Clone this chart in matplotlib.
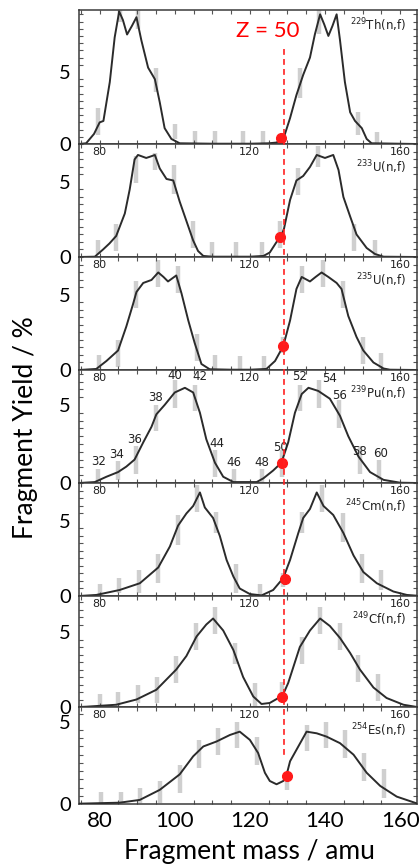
import matplotlib
matplotlib.use('Agg')
import matplotlib.pyplot as plt
import matplotlib.transforms as mtransforms
from matplotlib.lines import Line2D
from matplotlib.ticker import MultipleLocator, FixedLocator, NullFormatter

plt.rcParams['font.family'] = ['Lato', 'DejaVu Sans']

# ── data (mass in amu, yield in %) ────────────────────────────────────
th229_mass  = [74.5, 76.4, 78.5, 80, 81, 82.7, 84, 85.2, 86.2, 87.3, 88.6, 89.8, 91.1, 92.9, 94.7, 96, 97.3, 99.1,
               101.3, 110, 120, 125, 127.1, 129.1, 130.7, 132.4, 134.2, 136, 137.3, 138.7, 139.8, 140.9, 142, 143.1,
               144, 145.3, 146.7, 148, 149.8, 151.1, 152.4, 164.5]
th229_yield = [0, 0.05, 0.7, 1.5, 1.6, 4.3, 7.4, 9.2, 8.6, 7.6, 8.2, 8.8, 7.2, 5.3, 4.5, 2.9, 1.1, 0.35,
               0.05, 0.02, 0.02, 0.05, 0.1, 0.5, 1.8, 3.4, 4.8, 6.0, 7.6, 9.0, 8.3, 7.5, 8.2, 9.0,
               7.2, 4.3, 2.2, 1.6, 1.1, 0.35, 0.05, 0]

u233_mass  = [74.5, 78.7, 80.9, 82.6, 84.4, 86.7, 88, 89.3, 90.2, 91.3, 92.4, 93.6, 94.7, 96, 97.8, 99.6, 101.3,
              103.1, 104.9, 106.2, 107.6, 110, 120, 123.6, 125.3, 127.1, 128.2, 129.1, 130.7, 132.4, 134.2, 136,
              137.8, 140, 142.2, 143.6, 144.9, 146.7, 148.4, 151.1, 153.3, 155.6, 164.5]
u233_yield = [0, 0.02, 0.5, 0.9, 1.4, 2.9, 4.5, 6.5, 6.8, 6.7, 6.6, 6.7, 6.8, 5.9, 5.2, 5.1, 3.7,
              2.4, 1.1, 0.4, 0.07, 0.02, 0.02, 0.07, 0.3, 1.0, 1.3, 1.9, 3.8, 5.1, 5.4, 6.0,
              6.8, 6.6, 6.8, 5.8, 4.0, 2.7, 1.5, 0.6, 0.2, 0.02, 0]

u235_mass  = [74.5, 79.1, 81.8, 84.9, 87.1, 88.9, 89.8, 91.6, 93.8, 95.6, 97, 98.2, 99.3, 100.4, 101.8, 103.6,
              105.3, 107.1, 109.3, 115, 120, 124.4, 126.7, 128.9, 130.7, 132.4, 133.8, 136, 137.5, 139.1, 140.9,
              143.1, 144.4, 146.2, 148.4, 150.2, 152.9, 155.6, 157.3, 164.5]
u235_yield = [0, 0.07, 0.6, 1.3, 2.9, 4.4, 5.2, 5.8, 6.0, 6.5, 6.2, 5.9, 6.1, 6.3, 5.1, 3.3,
              1.8, 0.4, 0.05, 0.02, 0.02, 0.07, 0.6, 1.6, 3.3, 5.4, 6.2, 5.9, 6.2, 6.5, 6.2,
              5.8, 5.4, 3.6, 2.2, 1.3, 0.5, 0.1, 0.02, 0]

pu239_mass  = [74.5, 78.7, 81.8, 84.9, 87.1, 89.3, 91.6, 93.8, 95.1, 97.3, 100, 102.7, 104.9, 106.7, 108.4,
               110.7, 112.9, 115.6, 121.8, 123.6, 126.2, 128.4, 130.2, 132, 133.8, 135.6, 138.2, 141.3, 144,
               146.2, 148.9, 152, 155.6, 160, 164.5]
pu239_yield = [0, 0.06, 0.4, 0.7, 1.05, 1.5, 2.6, 3.6, 4.4, 5.0, 5.8, 6.1, 5.8, 4.5, 2.8,
               1.3, 0.4, 0.06, 0.06, 0.3, 0.8, 1.3, 2.6, 4.5, 5.7, 6.1, 5.9, 5.4, 4.3,
               3.0, 1.7, 0.7, 0.2, 0.02, 0]

cm245_mass  = [74.5, 79.1, 85.3, 90.7, 95.6, 98.7, 100.9, 103.1, 104.9, 106.7, 108, 110.2, 112, 113.8, 115.6,
               117.3, 120, 123.1, 126.2, 128.9, 130.7, 132.9, 134.2, 136, 137.8, 139.6, 142.2, 144.9, 147.6,
               150.2, 153.8, 158.2, 161.8, 164.5]
cm245_yield = [0, 0.07, 0.4, 0.85, 1.9, 3.3, 4.7, 5.5, 6.0, 6.9, 5.9, 5.2, 4.0, 2.4, 1.3,
               0.5, 0.13, 0.04, 0.4, 1.2, 2.4, 4.2, 5.2, 5.8, 6.9, 6.0, 5.4, 4.2, 2.7,
               1.6, 0.85, 0.3, 0.07, 0.02]

cf249_mass  = [74.5, 76.4, 84.4, 89.8, 95.1, 100.4, 103.1, 105.8, 108.4, 110.2, 112.9, 115.6, 118.2, 120.9,
               123.1, 125.3, 127.6, 128.6, 130.2, 133.3, 136, 138.7, 141.3, 144, 146.7, 149.3, 152.9, 156.4,
               160.9, 164.5]
cf249_yield = [0, 0.02, 0.15, 0.5, 1.15, 2.5, 3.4, 4.7, 5.5, 5.9, 5.1, 3.8, 2.0, 0.7,
               0.2, 0.27, 0.6, 0.7, 1.6, 4.0, 5.1, 5.9, 5.4, 4.6, 3.6, 2.5, 1.3, 0.6,
               0.15, 0]

es254_mass  = [74.5, 85.3, 90.7, 96, 101.3, 104.9, 107.6, 111.1, 114.7, 117.3, 120, 122.2, 124, 125.3, 127.1,
               128.9, 129.8, 130.7, 132.9, 135.1, 137.8, 140.4, 144, 147.6, 151.1, 154.7, 159.1, 164.4]
es254_yield = [0.02, 0.08, 0.25, 0.86, 1.8, 2.9, 3.5, 3.8, 4.2, 4.4, 3.9, 3.1, 1.9, 1.4, 1.2,
               1.4, 1.8, 2.6, 3.5, 4.4, 4.3, 4.1, 3.7, 3.0, 1.9, 1.1, 0.45, 0.04]

# grey measurement bars: (mass, low, high)
th229_bars = [(79.6, 0.6, 2.5), (85.3, 8.5, 9.4), (90.2, 8.0, 9.4), (94.9, 3.6, 5.3), (100, 0.35, 1.4),
              (105.3, 0.1, 0.9), (110.7, 0.1, 0.9), (118.2, 0.1, 0.9), (123.4, 0.1, 0.9), (133.3, 3.2, 5.3),
              (138.5, 7.6, 9.3), (148.9, 0.6, 2.2), (153.8, 0.1, 0.8)]
u233_bars = [(79.6, 0.2, 1.1), (84.4, 0.4, 2.2), (89.8, 4.9, 6.7), (94.7, 5.8, 6.9), (99.8, 4.2, 6.1),
             (104.9, 0.6, 2.4), (109.8, 0.07, 1.0), (116.4, 0.07, 1.0), (123.1, 0.07, 1.0), (128, 0.6, 2.4),
             (132.9, 4.1, 5.9), (138.2, 6.0, 7.4), (147.6, 0.4, 2.2), (153.3, 0.07, 1.1)]
u235_bars = [(79.8, 0.07, 1.0), (84.9, 0.2, 2.0), (89.8, 4.1, 5.9), (95.6, 5.5, 7.3), (100.9, 5.1, 6.9),
             (106, 0.6, 2.4), (110.8, 0.07, 1.0), (117.5, 0.07, 0.9), (123.8, 0.07, 0.9), (128.9, 1.1, 2.2),
             (134, 5.1, 6.9), (139.6, 5.5, 7.3), (144.9, 4.1, 5.9), (150, 0.4, 2.2), (154.8, 0.07, 1.1)]
pu239_bars = [(79.6, 0.07, 0.9), (84.9, 0.17, 1.4), (89.6, 0.6, 2.4), (94.9, 3.3, 5.0), (100, 4.8, 6.6),
              (105.3, 4.6, 6.3), (110.8, 0.4, 2.1), (115.8, 0.07, 0.9), (123.2, 0.07, 0.9), (128.5, 0.4, 2.1),
              (133.3, 4.6, 6.3), (138.5, 4.8, 6.6), (143.8, 3.5, 5.3), (149.3, 0.6, 2.4), (154.5, 0.17, 1.5)]
cm245_bars = [(80.2, 0.07, 0.8), (85.2, 0.2, 1.2), (90.5, 0.2, 1.7), (95.6, 0.85, 2.8), (100.9, 3.4, 5.4),
              (105.8, 5.6, 7.4), (111.1, 4.2, 5.6), (116.3, 0.2, 2.1), (122.7, 0.07, 0.8), (128.9, 0.6, 1.5),
              (134, 4.2, 5.6), (139.1, 5.6, 7.4), (144.7, 3.6, 5.5), (149.8, 0.85, 2.8), (154.8, 0.4, 1.75)]
cf249_bars = [(80, 0.05, 0.9), (84.9, 0.05, 1.0), (90.2, 0.27, 1.5), (95.3, 0.27, 2.0), (100.4, 1.6, 3.4),
              (105.6, 3.8, 5.6), (110.8, 4.9, 6.7), (116, 2.9, 4.3), (121.3, 0.05, 1.6), (128.6, 0.7, 1.7),
              (133.8, 2.9, 4.7), (138.8, 4.9, 6.7), (144, 3.8, 5.6), (148.9, 1.7, 3.5), (154, 0.4, 2.2)]
es254_bars = [(80.4, 0.04, 0.75), (85.8, 0.04, 0.75), (90.8, 0.04, 0.96), (96, 0.04, 1.37), (101.3, 0.65, 2.4),
              (106.4, 2.2, 3.9), (111.5, 3.0, 4.6), (116.7, 3.4, 5.0), (121.9, 2.4, 4.1), (129.8, 0.85, 1.5),
              (135.1, 3.2, 4.8), (140.3, 3.4, 5.0), (145.3, 2.8, 4.5), (150.4, 1.4, 3.1), (155.6, 0.35, 2.1)]

# red Z = 50 points (mass, yield)
z50_mass  = [128.2, 128.0, 128.9, 128.5, 129.3, 128.6, 129.9]
z50_yield = [0.4, 1.3, 1.6, 1.3, 1.1, 0.7, 1.7]
Z50_LINE = 129.1

labels = ['229', '233', '235', '239', '245', '249', '254']
elems  = ['Th', 'U', 'U', 'Pu', 'Cm', 'Cf', 'Es']
curves = [(th229_mass, th229_yield), (u233_mass, u233_yield), (u235_mass, u235_yield),
          (pu239_mass, pu239_yield), (cm245_mass, cm245_yield), (cf249_mass, cf249_yield),
          (es254_mass, es254_yield)]
bars = [th229_bars, u233_bars, u235_bars, pu239_bars, cm245_bars, cf249_bars, es254_bars]

# charge labels for the Pu panel: (Z, mass, yield)
pu_charges = [(32, 79.6, 1.36), (34, 84.4, 1.8), (36, 89.3, 2.8), (38, 94.9, 5.5), (40, 100, 6.9),
              (42, 106.7, 6.8), (44, 111.1, 2.55), (46, 115.7, 1.3), (48, 123.3, 1.3), (50, 128.2, 2.3),
              (52, 133.3, 6.8), (54, 141.3, 6.7), (56, 143.8, 5.6), (58, 149.3, 2.0), (60, 154.8, 1.86)]

# ── layout (pixel coordinates of the reference) ───────────────────────
W, H = 419, 868
X0, X1 = 79, 417
tops    = [10, 144, 257, 370, 483, 596, 707]
bottoms = [144, 257, 370, 483, 596, 707, 804]
ymaxs   = [9.3, 7.53, 7.53, 7.24, 7.53, 7.4, 5.9]
XLIM = (74.5, 164.5)

fig = plt.figure(figsize=(W / 100, H / 100), dpi=100)

axes = []
for i in range(7):
    ax = fig.add_axes([X0 / W, 1 - bottoms[i] / H, (X1 - X0) / W, (bottoms[i] - tops[i]) / H])
    axes.append(ax)
    m, y = curves[i]
    for bx, lo, hi in bars[i]:
        ax.vlines(bx, lo, hi, color='#cfcfcf', lw=3.2, zorder=1)
    ax.plot(m, y, color='#2b2b2b', lw=1.4, zorder=3)
    ax.plot(z50_mass[i], z50_yield[i], 'o', color='#ff1a1a', ms=7, zorder=6, clip_on=False)

    ax.set_xlim(*XLIM)
    ax.set_ylim(0, ymaxs[i])
    for s in ax.spines.values():
        s.set_color('#3a3a3a')
        s.set_linewidth(1.1)
    ax.xaxis.set_minor_locator(MultipleLocator(5))
    ax.yaxis.set_minor_locator(MultipleLocator(0.5))
    ax.tick_params(which='minor', direction='in', length=3, width=0.8, color='#555555',
                   top=True, bottom=True, left=True, right=True)
    ax.yaxis.set_major_locator(FixedLocator([0, 5]))
    ax.tick_params(axis='y', which='major', length=0, labelsize=14.5, pad=6)
    if i < 6:
        ax.xaxis.set_major_locator(FixedLocator([]))
        ax.xaxis.set_major_formatter(NullFormatter())
    else:
        ax.xaxis.set_major_locator(FixedLocator([80, 100, 120, 140, 160]))
        ax.tick_params(axis='x', which='major', length=0, labelsize=16, pad=5)

    if i > 0:
        for v in (80, 120, 160):
            ax.annotate(str(v), xy=(v, 1), xycoords=('data', 'axes fraction'), xytext=(0, -2),
                        textcoords='offset points', ha='center', va='top', fontsize=8,
                        family='DejaVu Sans', color='#222222')
    dy = -11 if i == 0 else -17
    ax.annotate('$^{%s}$%s(n,f)' % (labels[i], elems[i]), xy=(1, 1), xycoords='axes fraction',
                xytext=(-8, dy), textcoords='offset points', ha='right', va='center',
                fontsize=8.5, family='DejaVu Sans', color='#222222')

# charge numbers on the Pu panel
for z, m, y in pu_charges:
    axes[3].text(m, y, str(z), ha='center', va='center', fontsize=8.5,
                 family='DejaVu Sans', color='#222222', zorder=5)

# Z = 50 dashed line across the panels
blend = mtransforms.blended_transform_factory(axes[0].transData, fig.transFigure)
fig.add_artist(Line2D([Z50_LINE, Z50_LINE], [1 - 49 / H, 1 - 756 / H], transform=blend,
                      color='#ff2020', lw=1.2, ls=(0, (3.5, 2.5)), zorder=5))
fig.text(268 / W, 1 - 31 / H, 'Z = 50', color='#ff0000', fontsize=16, ha='center', va='center')

fig.text(25 / W, 1 - 428 / H, 'Fragment Yield / %', rotation=90, fontsize=19,
         ha='center', va='center')
fig.text(249 / W, 1 - 852 / H, 'Fragment mass / amu', fontsize=19, ha='center', va='center')

fig.savefig('out.png', dpi=100)
